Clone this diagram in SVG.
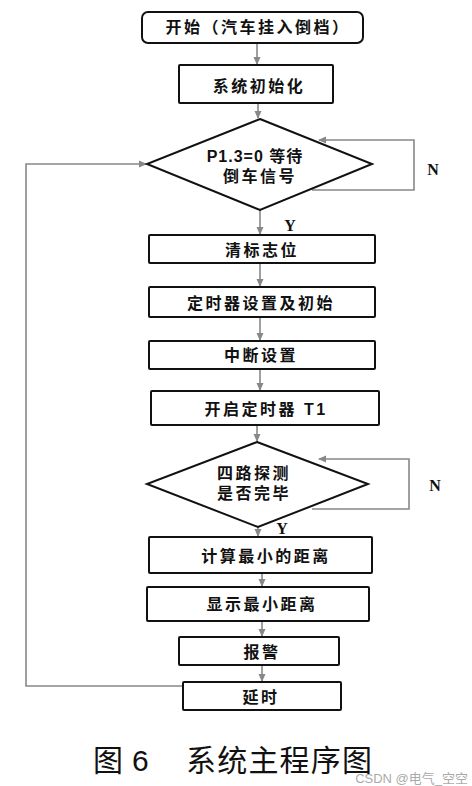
<svg xmlns="http://www.w3.org/2000/svg" width="472" height="786" viewBox="0 0 472 786">
<style>
.box{fill:#fff;stroke:#111;stroke-width:2}
.t{font-family:"Liberation Sans","Noto Sans CJK SC",sans-serif;font-size:16px;font-weight:bold;fill:#111;text-anchor:middle;letter-spacing:2.5px}
.lbl{font-family:"Liberation Serif","Noto Sans CJK SC",serif;font-size:16px;font-weight:bold;fill:#111;text-anchor:middle}
.c{fill:none;stroke:#888;stroke-width:1.6}
.cap{font-family:"Liberation Sans","Noto Sans CJK SC",sans-serif;font-size:30px;fill:#111}
</style>
<defs>
<marker id="ah" markerWidth="8" markerHeight="8" refX="7" refY="4" orient="auto" markerUnits="userSpaceOnUse">
<path d="M0,0.5 L8,4 L0,7.5 Z" fill="#888"/>
</marker>
</defs>
<rect width="472" height="786" fill="#fff"/>
<g id="connectors">
<line class="c" x1="257" y1="43" x2="257" y2="64" marker-end="url(#ah)"/>
<line class="c" x1="258" y1="104" x2="258" y2="118" marker-end="url(#ah)"/>
<line class="c" x1="260" y1="210" x2="260" y2="234" marker-end="url(#ah)"/>
<line class="c" x1="260" y1="264" x2="260" y2="286" marker-end="url(#ah)"/>
<line class="c" x1="260" y1="318" x2="260" y2="340" marker-end="url(#ah)"/>
<line class="c" x1="260" y1="370" x2="260" y2="390" marker-end="url(#ah)"/>
<line class="c" x1="257" y1="426" x2="257" y2="441" marker-end="url(#ah)"/>
<line class="c" x1="258" y1="527" x2="258" y2="536" marker-end="url(#ah)"/>
<line class="c" x1="262" y1="574" x2="262" y2="586" marker-end="url(#ah)"/>
<line class="c" x1="262" y1="622" x2="262" y2="636" marker-end="url(#ah)"/>
<line class="c" x1="262" y1="666" x2="262" y2="681" marker-end="url(#ah)"/>
<polyline class="c" points="312,190 414,190 414,140 319,140" marker-end="url(#ah)"/>
<polyline class="c" points="312,509 409,509 409,459 319,459" marker-end="url(#ah)"/>
<polyline class="c" points="183,686 26,686 26,164 146,164" marker-end="url(#ah)"/>
<text class="lbl" x="433" y="175">N</text>
<text class="lbl" x="290" y="231">Y</text>
<text class="lbl" x="435" y="491">N</text>
<text class="lbl" x="282" y="534">Y</text>
</g>
<g id="start">
<rect class="box" x="142" y="12" width="221" height="31" rx="6"/>
<text class="t" x="258" y="33">开始（汽车挂入倒档）</text>
</g>
<g id="init">
<rect class="box" x="179" y="65" width="154" height="38" rx="1"/>
<text class="t" x="259" y="92">系统初始化</text>
</g>
<g id="wait">
<polygon class="box" points="260,119 372,164 260,210 147,164"/>
<text class="t" x="255" y="162" style="letter-spacing:1px">P1.3=0 等待</text>
<text class="t" x="260" y="182">倒车信号</text>
</g>
<g id="clear">
<rect class="box" x="149" y="235" width="226" height="28" rx="1"/>
<text class="t" x="262" y="256">清标志位</text>
</g>
<g id="timerinit">
<rect class="box" x="149" y="287" width="226" height="30" rx="1"/>
<text class="t" x="261" y="309">定时器设置及初始</text>
</g>
<g id="interrupt">
<rect class="box" x="149" y="341" width="226" height="28" rx="1"/>
<text class="t" x="261" y="361">中断设置</text>
</g>
<g id="starttimer">
<rect class="box" x="151" y="391" width="228" height="34" rx="1"/>
<text class="t" x="266" y="415">开启定时器 T1</text>
</g>
<g id="detect">
<polygon class="box" points="257,442 368,484 258,527 147,484"/>
<text class="t" x="254" y="479">四路探测</text>
<text class="t" x="254" y="499">是否完毕</text>
</g>
<g id="compute">
<rect class="box" x="149" y="537" width="223" height="36" rx="1"/>
<text class="t" x="266" y="562">计算最小的距离</text>
</g>
<g id="display">
<rect class="box" x="147" y="587" width="222" height="34" rx="1"/>
<text class="t" x="262" y="610">显示最小距离</text>
</g>
<g id="alarm">
<rect class="box" x="179" y="637" width="160" height="28" rx="1"/>
<text class="t" x="262" y="658">报警</text>
</g>
<g id="delay">
<rect class="box" x="183" y="682" width="158" height="28" rx="1"/>
<text class="t" x="261" y="703">延时</text>
</g>
<g id="caption">
<text class="cap" x="93" y="771">图</text>
<text class="cap" x="132" y="771">6</text>
<text class="cap" x="186" y="771" textLength="186" lengthAdjust="spacing">系统主程序图</text>
<text x="468" y="783" style="font-family:'Liberation Sans','Noto Sans CJK SC',sans-serif;font-size:13px;fill:#aaa;text-anchor:end">CSDN @电气_空空</text>
</g>
</svg>
